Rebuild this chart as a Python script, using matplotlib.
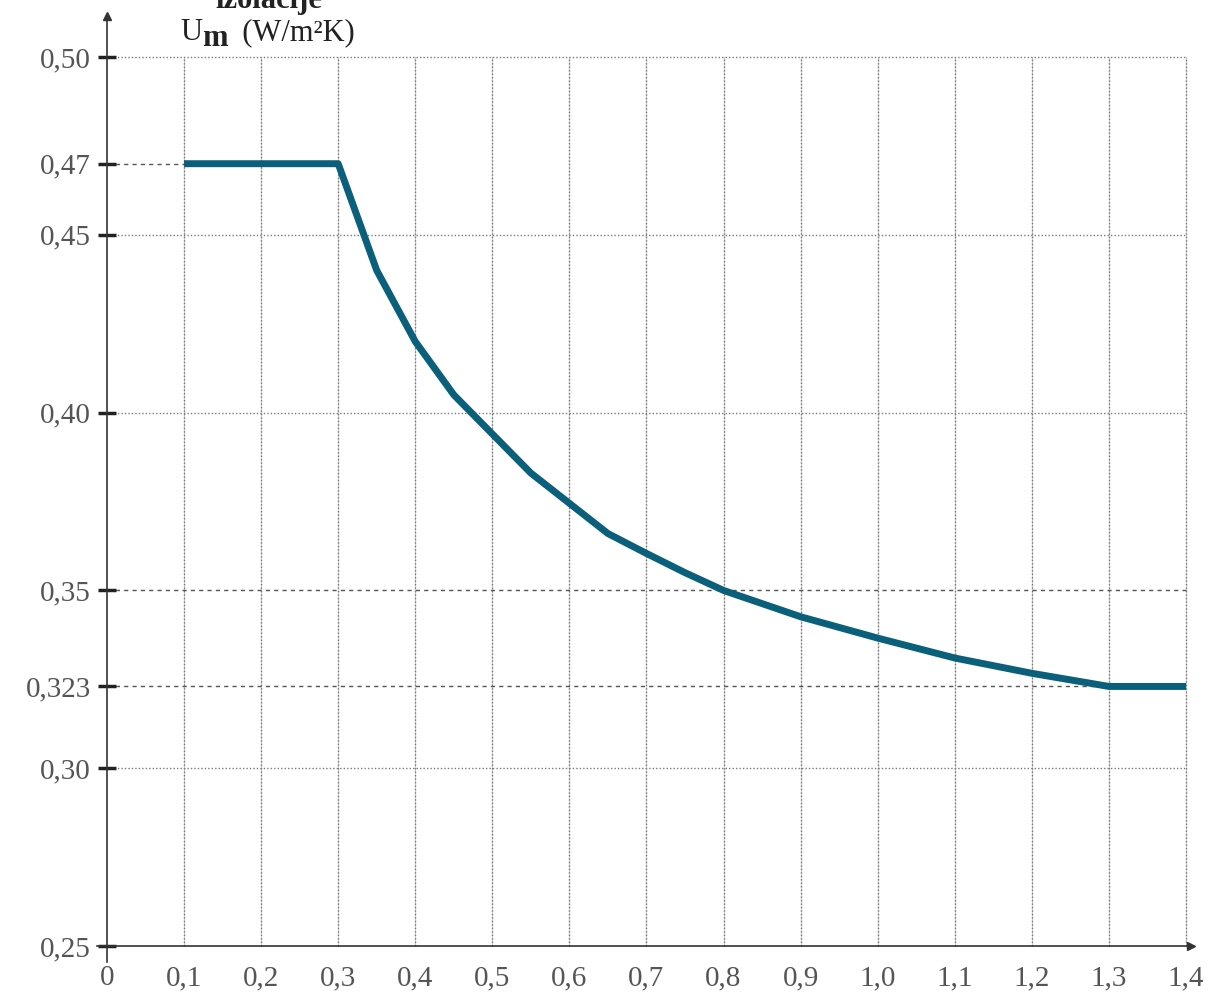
import numpy as np
import matplotlib.pyplot as plt

plt.rcParams['font.family'] = ['Liberation Serif', 'DejaVu Serif']

# data
x_vals = [0.1, 0.2, 0.3, 0.35, 0.4, 0.45, 0.5, 0.55, 0.6, 0.65, 0.7, 0.75,
          0.8, 0.9, 1.0, 1.1, 1.2, 1.3, 1.4]
um_vals = [0.47, 0.47, 0.47, 0.440, 0.420, 0.405, 0.394, 0.383, 0.3745, 0.366,
           0.3604, 0.355, 0.35, 0.3426, 0.3366, 0.331, 0.3267, 0.323, 0.323]

x_ticks = [0, 0.1, 0.2, 0.3, 0.4, 0.5, 0.6, 0.7, 0.8, 0.9, 1.0, 1.1, 1.2, 1.3, 1.4]
x_labels = ['0', '0,1', '0,2', '0,3', '0,4', '0,5', '0,6', '0,7', '0,8', '0,9',
            '1,0', '1,1', '1,2', '1,3', '1,4']
y_ticks = [0.25, 0.30, 0.323, 0.35, 0.40, 0.45, 0.47, 0.50]
y_labels = ['0,25', '0,30', '0,323', '0,35', '0,40', '0,45', '0,47', '0,50']
dotted_y = [0.30, 0.40, 0.45, 0.50]
dashed_y = [(0.47, 0.1), (0.35, 1.4), (0.323, 1.3)]

fig = plt.figure(figsize=(12.1, 9.96), dpi=100)
ax = fig.add_axes([0.0693, 0.0323, 0.9236, 0.964])
ax.set_xlim(-0.03, 1.42)
ax.set_ylim(0.245, 0.515)

grid_col = '#7a7a7a'
# vertical grid
for xv in x_ticks[1:]:
    ax.plot([xv, xv], [0.25, 0.50], color='#cccccc', lw=0.8, zorder=1)
    ax.plot([xv, xv], [0.25, 0.50], color=grid_col, lw=1.0, ls=(0, (1, 1.5)), zorder=1)
# horizontal grid
for yv in dotted_y:
    ax.plot([0, 1.4], [yv, yv], color=grid_col, lw=1.0, ls=(0, (1, 1.5)), zorder=1)
for yv, xe in dashed_y:
    ax.plot([0, xe], [yv, yv], color='#555555', lw=1.0, ls=(0, (3, 3)), zorder=1)

# curve
ax.plot(x_vals, um_vals, color='#0a5f7a', lw=5, solid_capstyle='butt',
        solid_joinstyle='round', zorder=3)

# axes through origin
for s in ['top', 'right']:
    ax.spines[s].set_visible(False)
ax.spines['left'].set_position(('data', 0))
ax.spines['bottom'].set_position(('data', 0.25))
ax.spines['left'].set_bounds(0.2455, 0.511)
ax.spines['bottom'].set_bounds(-0.013, 1.405)
for s in ['left', 'bottom']:
    ax.spines[s].set_color('#333333')
    ax.spines[s].set_linewidth(1.2)
ax.plot([0], [0.5115], marker='^', ms=6, color='#333333', clip_on=False, zorder=4)
ax.plot([1.406], [0.25], marker='>', ms=6, color='#333333', clip_on=False, zorder=4)

ax.set_xticks(x_ticks)
ax.set_xticklabels(x_labels)
ax.set_xticks(x_ticks[1:-1], minor=True)
ax.tick_params(axis='x', which='major', length=0, pad=14, labelsize=21,
               labelcolor='#555555')
ax.tick_params(axis='x', which='minor', length=13, width=2.5, direction='inout',
               color='#222222')

ax.set_yticks(y_ticks)
ax.set_yticklabels(y_labels)
ax.tick_params(axis='y', which='major', length=13, width=2.5, direction='inout',
               color='#222222', pad=5, labelsize=21, labelcolor='#555555')

# axis title (top line is cut by the image edge, as in the original)
ax.text(0.21, 0.5138, 'izolacije', ha='center', va='baseline', fontsize=22,
        fontweight='bold', color='#222222')
t_u = ax.text(0.0947, 0.5048, 'U', ha='left', va='baseline', fontsize=22,
              color='#222222')
t_m = ax.annotate('m', xy=(1, 0), xycoords=t_u, xytext=(0, -4),
                  textcoords='offset points', ha='left', va='bottom',
                  fontsize=22, fontweight='bold', color='#222222')
ax.annotate('  (W/m²K)', xy=(1, 0), xycoords=t_m, xytext=(0, 4),
            textcoords='offset points', ha='left', va='bottom',
            fontsize=22, color='#222222')

fig.savefig('out.png', dpi=100)
